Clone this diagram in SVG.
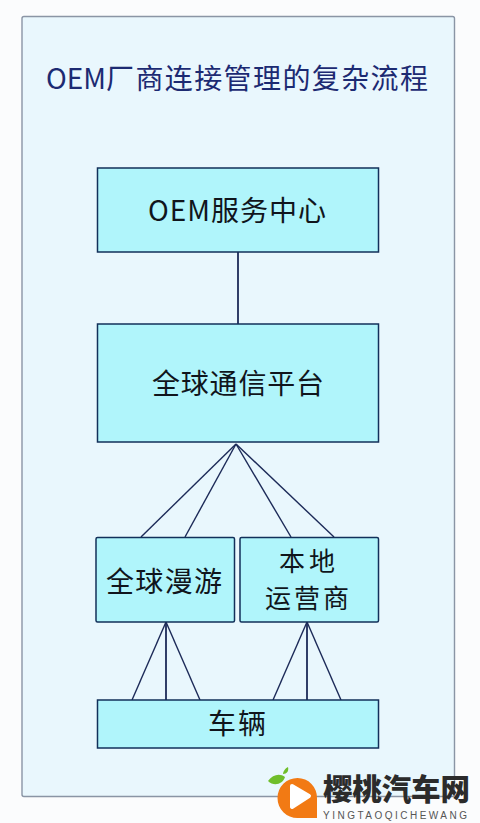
<svg xmlns="http://www.w3.org/2000/svg" width="480" height="823" viewBox="0 0 480 823">
<style>
.n{fill:#b0f5fb;stroke:#12305a;stroke-width:1.5}
.t{font-family:"Noto Sans CJK SC","Noto Sans",sans-serif;fill:#10151c;text-anchor:middle;font-size:28px}
.t2{font-family:"Noto Sans CJK SC","Noto Sans",sans-serif;fill:#10151c;text-anchor:middle;font-size:26px}
.c line{stroke:#1c2a58;stroke-width:1.4}
.c .v{stroke-width:1.8}
.wm{font-family:"Noto Sans CJK SC",sans-serif;font-weight:900;fill:#2b2b2b;font-size:29.500px}
</style>
<rect width="480" height="823" fill="#fbfcfd"/>
<rect id="frame" x="22" y="16.500" width="432.500" height="780" rx="2" fill="#e9f7fd" stroke="#8a95a5" stroke-width="1.400"/>
<text id="title" x="46" y="89" font-family="'Noto Sans CJK SC','Noto Sans',sans-serif" font-size="28" fill="#1c2a72"><tspan>OEM</tspan><tspan letter-spacing="1.400">厂商连接管理的复杂流程</tspan></text>
<g class="c" id="connectors">
<line class="v" x1="238" y1="252" x2="238" y2="324"/>
<line x1="236" y1="444" x2="141" y2="537"/>
<line x1="236" y1="444" x2="185" y2="537"/>
<line x1="236" y1="444" x2="291" y2="537"/>
<line x1="236" y1="444" x2="334" y2="537"/>
<line x1="166" y1="622" x2="132" y2="700"/>
<line class="v" x1="166" y1="622" x2="166" y2="700"/>
<line x1="166" y1="622" x2="200" y2="700"/>
<line x1="307" y1="622" x2="273" y2="700"/>
<line class="v" x1="307" y1="622" x2="307" y2="700"/>
<line x1="307" y1="622" x2="341" y2="700"/>
</g>
<g id="oem"><rect class="n" x="97.500" y="168" width="281" height="84"/><text class="t" x="237" y="221" textLength="178">OEM服务中心</text></g>
<g id="global"><rect class="n" x="97.500" y="324" width="281" height="118"/><text class="t" x="238" y="394" textLength="172">全球通信平台</text></g>
<g id="roam"><rect class="n" x="96" y="537.500" width="138.500" height="84.500" rx="1.500"/><text class="t" x="164" y="592" textLength="116">全球漫游</text></g>
<g id="local"><rect class="n" x="240" y="537.500" width="138.500" height="84.500" rx="1.500"/><text class="t2" x="307" y="571" textLength="56">本地</text><text class="t2" x="307" y="608" textLength="84">运营商</text></g>
<g id="car"><rect class="n" x="97.500" y="700" width="281" height="48"/><text class="t" x="237" y="734" textLength="58">车辆</text></g>
<g id="watermark">
<path d="M268 781c5-7 12-8 17-4-2 7-11 10-17 4z" fill="#6fbe2a"/><path d="M283 774c0-3 3-6 5-7 1 4-1 7-5 7z" fill="#6fbe2a"/>
<path d="M297.500 778a19.500 19.500 0 0 1 19.500 20v20h-19.500a20 20 0 0 1 0-40z" fill="#f27a14"/>
<path d="M292 786l17 10-17 11z" fill="#fff" stroke="#fff" stroke-width="4" stroke-linejoin="round"/>
<text class="wm" x="323" y="800" textLength="147">樱桃汽车网</text>
<text x="323" y="818.500" font-family="'Liberation Sans',sans-serif" font-size="10" fill="#555" textLength="144">YINGTAOQICHEWANG</text>
</g>
</svg>
